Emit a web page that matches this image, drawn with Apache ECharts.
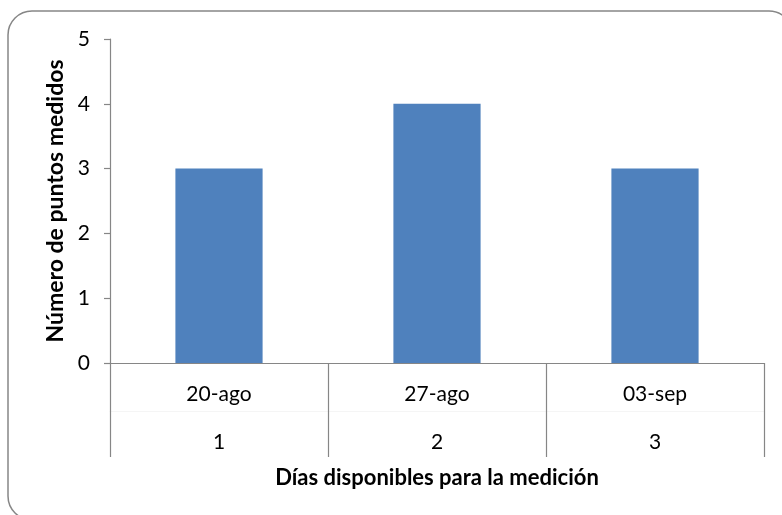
<!DOCTYPE html>
<html>
<head>
<meta charset="utf-8">
<script src="https://cdn.jsdelivr.net/npm/echarts@6/dist/echarts.min.js"></script>
<style>
  html, body { margin: 0; padding: 0; background: #ffffff; }
  #chart { width: 782px; height: 515px; }
</style>
</head>
<body>
<div id="chart"></div>
<script>
// Dates of each measuring day and their running number
const fechas = ['20-ago', '27-ago', '03-sep'];
const dias = ['1', '2', '3'];
// Number of points measured per day
const puntos = [3, 4, 3];
// Value axis ticks
const yMin = 0;
const yMax = 5;
const yStep = 1;

const FONT = 'Lato';
const AXIS_GRAY = '#868686';

const chart = echarts.init(document.getElementById('chart'), null, { renderer: 'canvas' });

chart.setOption({
  backgroundColor: '#ffffff',
  animation: false,
  textStyle: { fontFamily: FONT },
  graphic: [{
    type: 'rect',
    shape: { x: 8, y: 11, width: 785, height: 509, r: 24 },
    style: { fill: null, stroke: AXIS_GRAY, lineWidth: 1.5 },
    silent: true,
    z: -1
  }],
  grid: { left: 110, right: 18, top: 39, bottom: 152 },
  xAxis: [{
    type: 'category',
    data: fechas,
    position: 'bottom',
    axisLine: { show: true, lineStyle: { color: AXIS_GRAY, width: 1.2 } },
    axisTick: { show: true, length: 94, alignWithLabel: false, lineStyle: { color: AXIS_GRAY, width: 1.2 } },
    axisLabel: { color: '#000', fontFamily: FONT, fontSize: 21, margin: 21 },
    splitLine: { show: false }
  }, {
    type: 'category',
    data: dias,
    position: 'bottom',
    offset: 48,
    axisLine: { show: true, lineStyle: { color: '#f5f5f5', width: 1 } },
    axisTick: { show: false },
    axisLabel: { color: '#000', fontFamily: FONT, fontSize: 21, margin: 21 },
    splitLine: { show: false },
    name: 'Días disponibles para la medición',
    nameLocation: 'middle',
    nameGap: 56,
    nameTextStyle: { color: '#000', fontFamily: FONT, fontSize: 22, fontWeight: 'bold' }
  }],
  yAxis: {
    type: 'value',
    min: yMin,
    max: yMax,
    interval: yStep,
    axisLine: { show: true, lineStyle: { color: AXIS_GRAY, width: 1.2 } },
    axisTick: { show: true, length: 6, lineStyle: { color: AXIS_GRAY, width: 1.2 } },
    axisLabel: { color: '#000', fontFamily: FONT, fontSize: 21, margin: 20 },
    splitLine: { show: false },
    name: 'Número de puntos medidos',
    nameLocation: 'middle',
    nameGap: 37,
    nameTextStyle: { color: '#000', fontFamily: FONT, fontSize: 23, fontWeight: 'bold' }
  },
  series: [{
    type: 'bar',
    xAxisIndex: 0,
    data: puntos,
    barWidth: '40%',
    itemStyle: { color: '#4F81BD' }
  }]
});
</script>
</body>
</html>
